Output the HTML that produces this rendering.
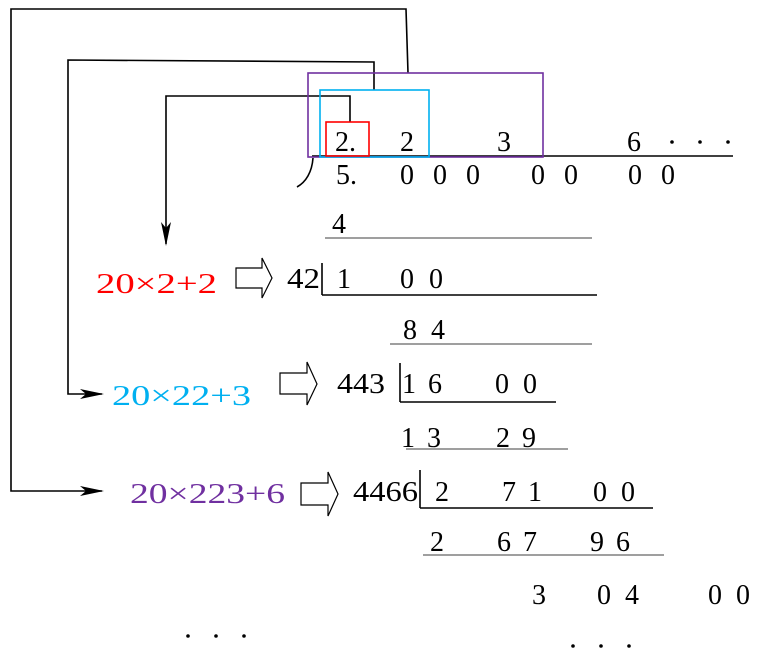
<!DOCTYPE html>
<html><head><style>body{margin:0;background:#fff}svg{display:block}</style></head><body>
<svg width="760" height="671" viewBox="0 0 760 671" xmlns="http://www.w3.org/2000/svg" font-family="Liberation Serif, serif" font-size="28">
<defs>
<marker id="ah2" markerWidth="24" markerHeight="10" refX="22" refY="5" orient="auto" markerUnits="userSpaceOnUse"><path d="M0,0 L24,5 L0,10 L6,5 z" fill="#000"/></marker></defs>
<g fill="none" stroke="#000" stroke-width="1.6">
<polyline points="408,73 406,9 11,9 11,491 102,491" marker-end="url(#ah2)"/>
<polyline points="374,90 374,62 68,60 68,394 102,394" marker-end="url(#ah2)"/>
<polyline points="350,122 350,96 166,96 166,244" marker-end="url(#ah2)"/>
<line x1="312" y1="156" x2="733" y2="156"/>
<path d="M313,158 C312,172 306,182 297,187"/>
<line x1="322" y1="263" x2="322" y2="295"/><line x1="322" y1="295" x2="597" y2="295"/>
<line x1="400" y1="363" x2="400" y2="402"/><line x1="400" y1="402" x2="556" y2="402"/>
<line x1="420" y1="470" x2="420" y2="508"/><line x1="420" y1="508" x2="653" y2="508"/>
</g>
<g stroke="#666" stroke-width="1.2">
<line x1="325" y1="238" x2="592" y2="238"/><line x1="390" y1="344" x2="592" y2="344"/>
<line x1="406" y1="449" x2="568" y2="449"/><line x1="423" y1="555" x2="664" y2="555"/>
</g>
<rect x="308" y="73" width="235" height="84" fill="none" stroke="#7030a0" stroke-width="1.6"/>
<rect x="320" y="90" width="109" height="67" fill="none" stroke="#00b0f0" stroke-width="1.6"/>
<rect x="326" y="122" width="43" height="34" fill="none" stroke="#ff0000" stroke-width="1.6"/>
<g fill="#fff" stroke="#000" stroke-width="1.2">
<path d="M236,268 H262 V258 L272,278 L262,298 V288 H236 Z"/>
<path d="M280,373 H307 V362 L317,384 L307,405 V394 H280 Z"/>
<path d="M301,483 H328 V472 L338,494 L328,516 V505 H301 Z"/>
</g>
<g fill="#000">
<text x="335" y="151">2.</text><text x="400" y="151">2</text><text x="497" y="151">3</text><text x="627" y="151">6</text>
<circle cx="672" cy="142" r="1.8"/><circle cx="700" cy="142" r="1.8"/><circle cx="728" cy="142" r="1.8"/>
<text x="336" y="184">5.</text>
<text x="400" y="184">0</text><text x="433" y="184">0</text><text x="466" y="184">0</text>
<text x="531" y="184">0</text><text x="564" y="184">0</text><text x="628" y="184">0</text><text x="661" y="184">0</text>
<text x="332" y="233">4</text>
<text x="287" y="288" textLength="33" lengthAdjust="spacingAndGlyphs">42</text><text x="337" y="288">1</text><text x="400" y="288">0</text><text x="429" y="288">0</text>
<text x="403" y="339">8</text><text x="431" y="339">4</text>
<text x="337" y="393" textLength="48" lengthAdjust="spacingAndGlyphs">443</text><text x="402" y="393">1</text><text x="428" y="393">6</text><text x="495" y="393">0</text><text x="523" y="393">0</text>
<text x="401" y="447">1</text><text x="427" y="447">3</text><text x="496" y="447">2</text><text x="522" y="447">9</text>
<text x="353" y="501" textLength="65" lengthAdjust="spacingAndGlyphs">4466</text><text x="435" y="501">2</text><text x="502" y="501">7</text><text x="528" y="501">1</text><text x="593" y="501">0</text><text x="621" y="501">0</text>
<text x="430" y="551">2</text><text x="497" y="551">6</text><text x="523" y="551">7</text><text x="590" y="551">9</text><text x="616" y="551">6</text>
<text x="532" y="604">3</text><text x="597" y="604">0</text><text x="625" y="604">4</text><text x="708" y="604">0</text><text x="736" y="604">0</text>
<circle cx="188" cy="636" r="1.8"/><circle cx="216" cy="636" r="1.8"/><circle cx="244" cy="636" r="1.8"/>
<circle cx="573" cy="646" r="1.8"/><circle cx="601" cy="646" r="1.8"/><circle cx="629" cy="646" r="1.8"/>
</g>
<text x="96" y="293" fill="#ff0000" textLength="121" lengthAdjust="spacingAndGlyphs">20×2+2</text>
<text x="112" y="405" fill="#00b0f0" textLength="139" lengthAdjust="spacingAndGlyphs">20×22+3</text>
<text x="130" y="503" fill="#7030a0" textLength="155" lengthAdjust="spacingAndGlyphs">20×223+6</text>
</svg>
</body></html>
